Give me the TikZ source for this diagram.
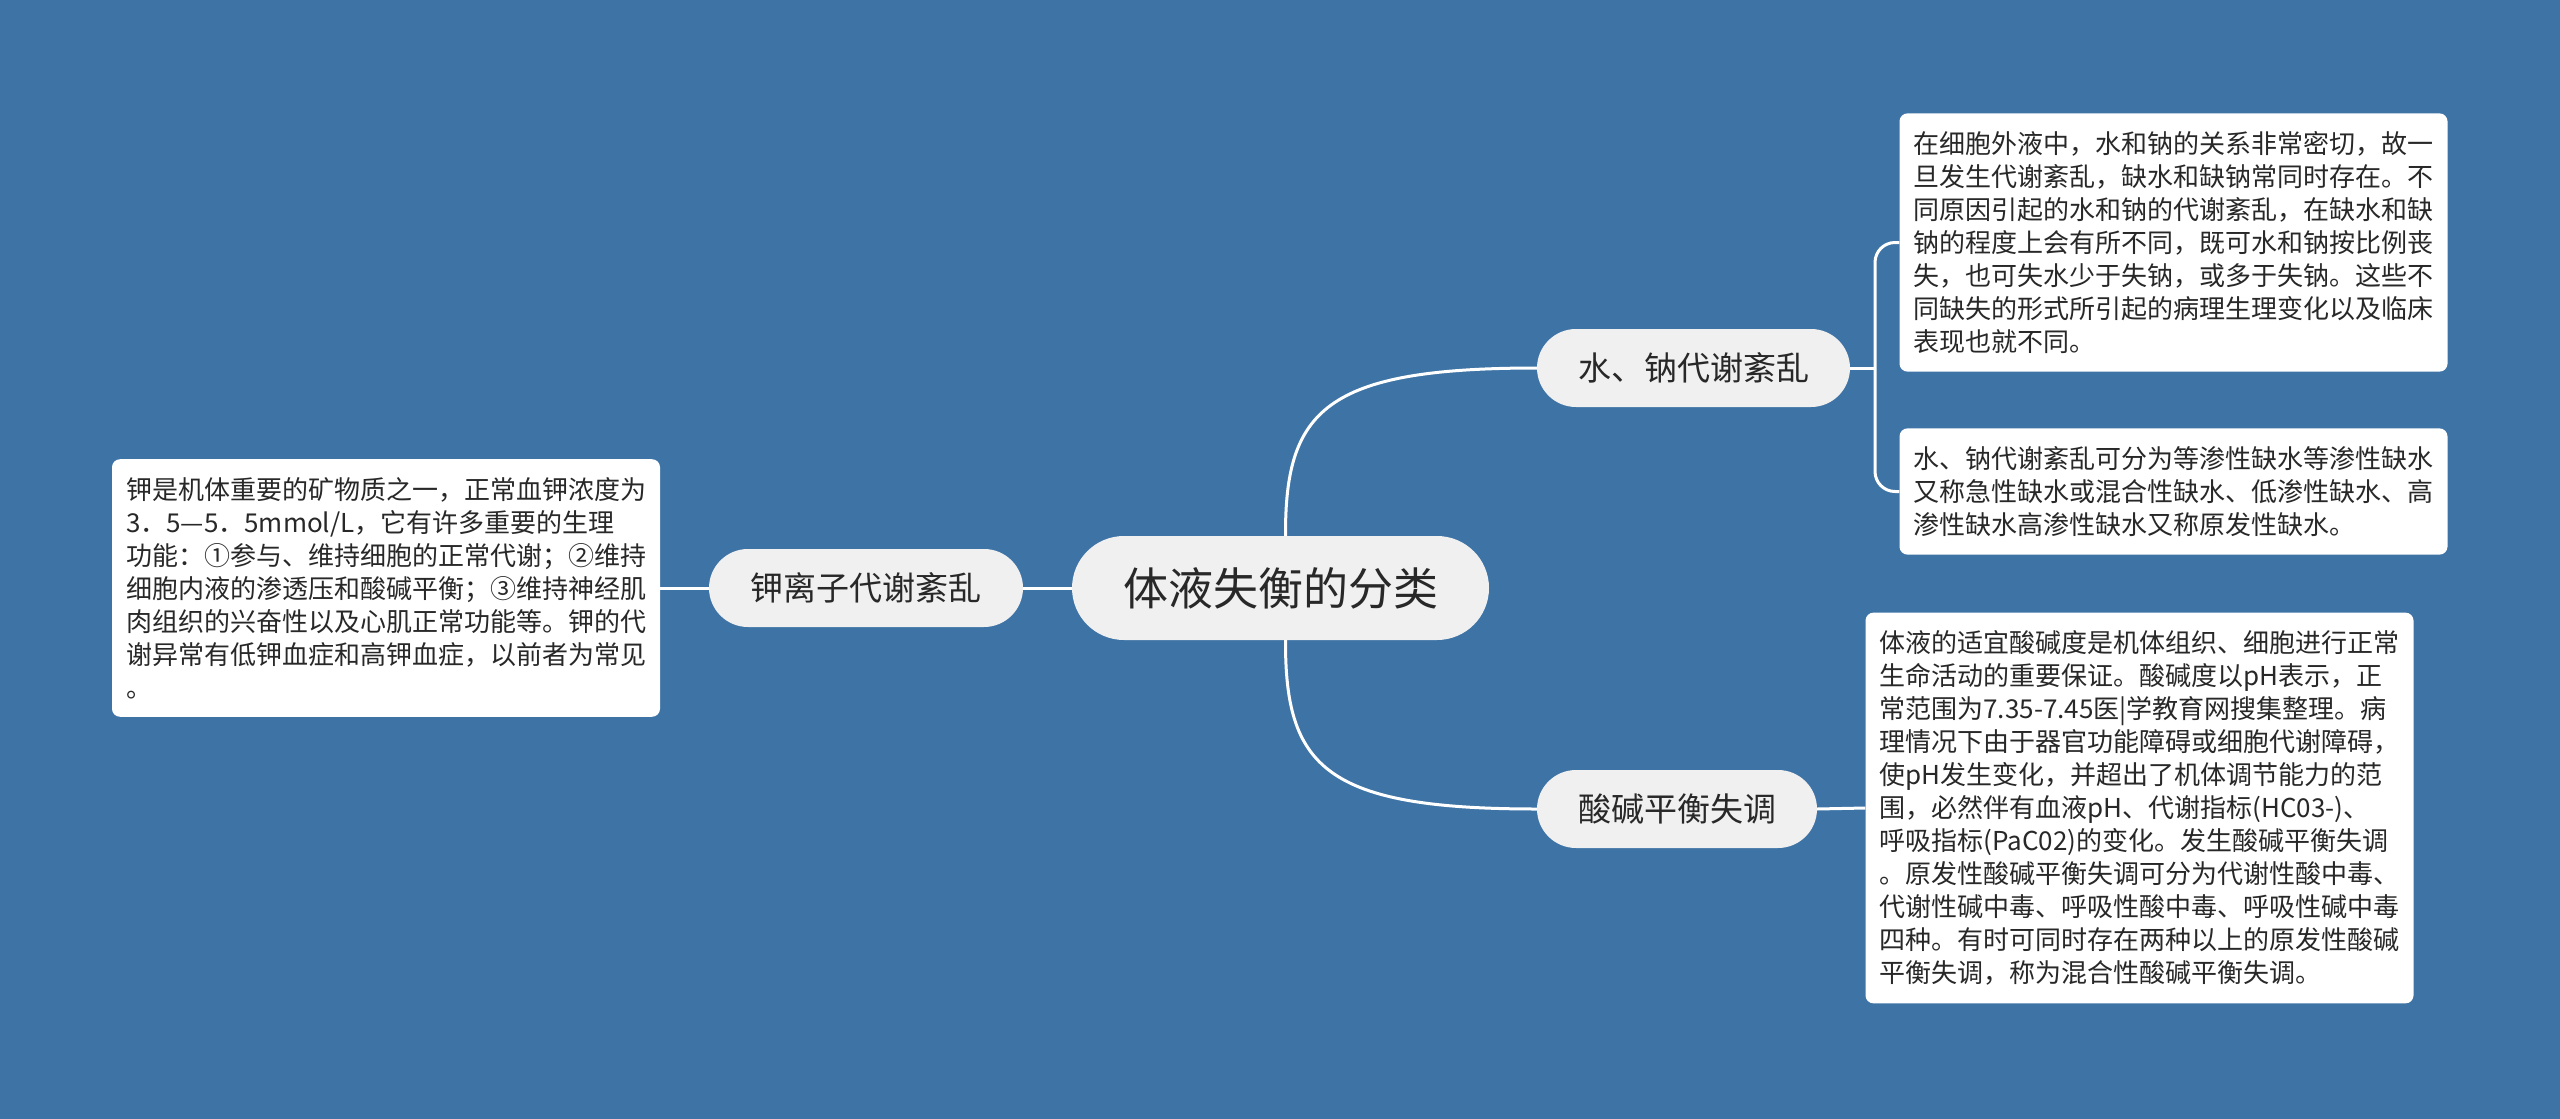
\documentclass[tikz,border=0pt]{standalone}
\usepackage{fontspec}
\newfontfamily\cjk{Noto Sans CJK SC}
\definecolor{bgblue}{RGB}{62,115,166}
\definecolor{pill}{RGB}{240,240,240}
\definecolor{ink}{RGB}{40,40,40}
\begin{document}
\begin{tikzpicture}[x=1pt,y=-1pt,
  link/.style={draw=white,line width=3pt},
  rootnode/.style={fill=pill,rounded corners=52pt,minimum width=417pt,minimum height=104pt,inner sep=0pt,text=ink,font={\cjk\fontsize{45}{54}\selectfont}},
  topic/.style={fill=pill,rounded corners=39pt,minimum height=78pt,inner sep=0pt,text=ink,font={\cjk\fontsize{33}{40}\selectfont}},
  textbox/.style={fill=white,rounded corners=8pt,inner xsep=14pt,inner ysep=18pt,text width=520pt,align=left,text=ink,font={\cjk\fontsize{26}{33}\selectfont}}
]
\fill[bgblue] (0,0) rectangle (2560,1119);
\useasboundingbox (0,0) rectangle (2560,1119);

\node[rootnode] (root) at (1280.5,588) {体液失衡的分类};
\node[topic,minimum width=314pt] (k) at (866,588) {钾离子代谢紊乱};
\node[topic,minimum width=313pt] (w) at (1693.5,368) {水、钠代谢紊乱};
\node[topic,minimum width=280pt] (a) at (1677,809) {酸碱平衡失调};

\node[textbox] (b1) at (2173.5,242.5) {在细胞外液中，水和钠的关系非常密切，故一\\旦发生代谢紊乱，缺水和缺钠常同时存在。不\\同原因引起的水和钠的代谢紊乱，在缺水和缺\\钠的程度上会有所不同，既可水和钠按比例丧\\失，也可失水少于失钠，或多于失钠。这些不\\同缺失的形式所引起的病理生理变化以及临床\\表现也就不同。};
\node[textbox] (b2) at (2173.5,491.5) {水、钠代谢紊乱可分为等渗性缺水等渗性缺水\\又称急性缺水或混合性缺水、低渗性缺水、高\\渗性缺水高渗性缺水又称原发性缺水。};
\node[textbox] (b3) at (2139.5,808) {体液的适宜酸碱度是机体组织、细胞进行正常\\生命活动的重要保证。酸碱度以pH表示，正\\常范围为7.35-7.45医|学教育网搜集整理。病\\理情况下由于器官功能障碍或细胞代谢障碍，\\使pH发生变化，并超出了机体调节能力的范\\围，必然伴有血液pH、代谢指标(HC03-)、\\呼吸指标(PaC02)的变化。发生酸碱平衡失调\\。原发性酸碱平衡失调可分为代谢性酸中毒、\\代谢性碱中毒、呼吸性酸中毒、呼吸性碱中毒\\四种。有时可同时存在两种以上的原发性酸碱\\平衡失调，称为混合性酸碱平衡失调。};
\node[textbox] (b4) at (386,588) {钾是机体重要的矿物质之一，正常血钾浓度为\\3．5—5．5mmol/L，它有许多重要的生理\\功能：①参与、维持细胞的正常代谢；②维持\\细胞内液的渗透压和酸碱平衡；③维持神经肌\\肉组织的兴奋性以及心肌正常功能等。钾的代\\谢异常有低钾血症和高钾血症，以前者为常见\\。};

\coordinate (jw) at (1875,368);
\draw[link] (root.west) -- (k.east);
\draw[link] (k.west) -- (b4.east);
\draw[link] ([xshift=5pt]root.north) .. controls (1285,410) and (1325,368) .. (w.west);
\draw[link] ([xshift=5pt]root.south) .. controls (1285,767) and (1325,809) .. (a.west);
\draw[link] (w.east) -- (jw);
\draw[link,rounded corners=20pt] (jw) |- (b1.west);
\draw[link,rounded corners=20pt] (jw) |- (b2.west);
\draw[link] (a.east) -- (b3.west);
\end{tikzpicture}
\end{document}
